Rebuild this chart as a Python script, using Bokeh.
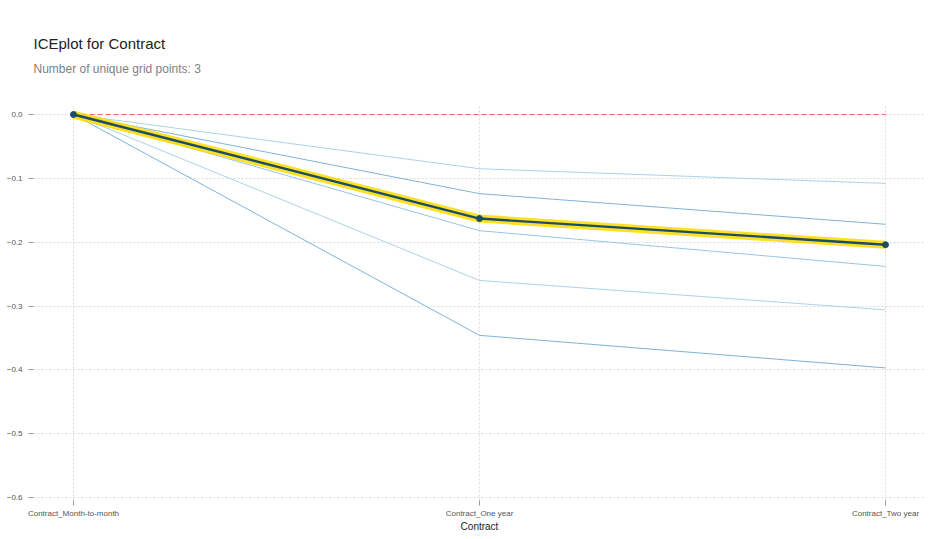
from bokeh.plotting import figure
from bokeh.models import Title, FixedTicker, CustomJSTickFormatter, Range1d
from bokeh.embed import file_html
from bokeh.resources import INLINE

categories = ["Contract_Month-to-month", "Contract_One year", "Contract_Two year"]
pdp_values = [0.0, -0.163, -0.204]
ice_lines = [
    [0.0, -0.085, -0.108],
    [0.0, -0.124, -0.172],
    [0.0, -0.182, -0.238],
    [0.0, -0.260, -0.306],
    [0.0, -0.346, -0.397],
]
ice_colors = ["#a9cfe6", "#75b0d8", "#92c2e0", "#a9cfe6", "#75b0d8"]
y_ticks = [0.0, -0.1, -0.2, -0.3, -0.4, -0.5, -0.6]

xs = list(range(len(categories)))

W, H = 940, 539
TOP, BOTTOM, LEFT, RIGHT = 105, 39, 33, 15
p = figure(width=W, height=H, output_backend="svg", toolbar_location=None,
           x_range=Range1d(-0.0985, 2.0985), y_range=Range1d(-0.6047, 0.0141),
           min_border_left=LEFT, min_border_right=RIGHT, min_border_bottom=BOTTOM,
           min_border_top=TOP)
p.outline_line_color = None
p.background_fill_color = "white"
p.border_fill_color = "white"

p.title.text = ""
p.title.visible = False
sub = Title(text="Number of unique grid points: 3\n\u00a0\n\u00a0", text_font="Liberation Sans",
            text_font_size="12px", text_font_style="normal", text_color="#7f7f7f",
            align="left", standoff=0, offset=0, text_line_height=1.0,
            vertical_align="top")
ttl = Title(text="ICEplot for Contract", text_font="Liberation Sans",
            text_font_size="15px", text_font_style="normal", text_color="#222222",
            align="left", standoff=20, offset=0, text_line_height=1.0)
p.add_layout(sub, "above")
p.add_layout(ttl, "above")

for yl, c in zip(ice_lines, ice_colors):
    p.line(xs, yl, line_color=c, line_width=1.0, line_alpha=0.95)

p.line([xs[0], xs[-1]], [0, 0], line_color="#EC7063", line_width=1.2, line_dash="5 3")

p.line(xs, pdp_values, line_color="#FEDC00", line_width=8, line_alpha=0.85)
p.line(xs, pdp_values, line_color="#1A4E66", line_width=2.4)
p.scatter(xs, pdp_values, size=6, color="#1A4E66")

for ax in (p.xaxis[0], p.yaxis[0]):
    ax.axis_line_color = None
    ax.major_tick_line_color = "#999999"
    ax.major_tick_in = 0
    ax.major_tick_out = 5
    ax.minor_tick_line_color = None
    ax.major_label_text_font = "Liberation Sans"
    ax.major_label_text_font_size = "8px"
    ax.major_label_text_color = "#555555"

p.xaxis.ticker = FixedTicker(ticks=xs)
p.xaxis.major_label_overrides = {i: c for i, c in zip(xs, categories)}
p.xaxis.axis_label = "Contract"
p.xaxis.axis_label_text_font = "Liberation Sans"
p.xaxis.axis_label_text_font_size = "10px"
p.xaxis.axis_label_text_font_style = "normal"
p.xaxis.axis_label_text_color = "#222222"
p.xaxis.axis_label_standoff = 0
p.xaxis.major_label_standoff = 3

p.yaxis.ticker = FixedTicker(ticks=y_ticks)
p.yaxis.formatter = CustomJSTickFormatter(
    code="var s = Math.abs(tick) < 1e-9 ? '0.0' : tick.toFixed(1); return s.replace('-', '\u2212');")
p.yaxis.major_label_standoff = 6

for g in (p.xgrid[0], p.ygrid[0]):
    g.grid_line_color = "#d0d0d0"
    g.grid_line_dash = "2 2"
    g.grid_line_width = 0.8

open("out.html", "w").write(file_html(p, INLINE))
